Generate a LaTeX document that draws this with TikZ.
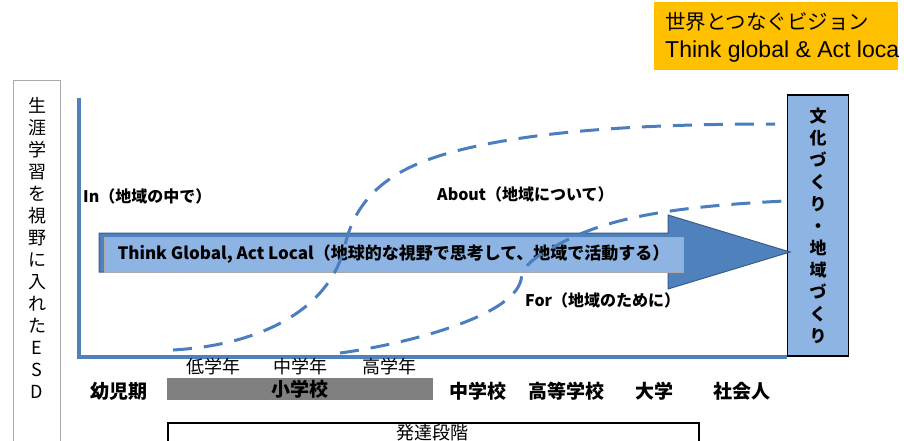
\documentclass[tikz,border=0pt]{standalone}
\usepackage{fontspec}
\setmainfont{Noto Sans CJK JP}
\newfontfamily\arialf{Liberation Sans}
\usetikzlibrary{calc}
\definecolor{axisblue}{RGB}{79,129,189}
\definecolor{dashblue}{RGB}{74,126,190}
\definecolor{arrowblue}{RGB}{79,129,189}
\definecolor{arrowedge}{RGB}{56,93,138}
\definecolor{lightblue}{RGB}{141,180,226}
\definecolor{bargray}{RGB}{128,128,128}
\definecolor{boxgray}{RGB}{170,170,170}
\definecolor{orangeY}{RGB}{255,192,0}
\begin{document}
\begin{tikzpicture}[x=1pt,y=-1pt,
  lbl/.style={inner sep=0pt, font=\bfseries\fontsize{16}{20}\selectfont},
  botlbl/.style={inner sep=0pt, font=\bfseries\fontsize{19}{22}\selectfont},
  toplbl/.style={inner sep=0pt, font=\fontsize{18}{22}\selectfont},
  dashcurve/.style={draw=dashblue, line width=3pt, dash pattern=on 19pt off 12pt},
  axisline/.style={draw=axisblue, line width=3.5pt}]
\useasboundingbox (0,0) rectangle (904,441);

% left box
\node[draw=boxgray, line width=1.2pt, anchor=north west, minimum width=47pt, minimum height=380pt, inner sep=0pt] (leftbox) at (13,80) {};
\node[font=\fontsize{18}{22}\selectfont, align=center, inner sep=0pt] (lefttext) at (37,248) {生\\涯\\学\\習\\を\\視\\野\\に\\入\\れ\\た\\E\\S\\D};

% right box
\node[draw=black, line width=1.5pt, fill=lightblue, minimum width=61pt, minimum height=261pt, inner sep=0pt, align=center, font=\bfseries\fontsize{17}{22}\selectfont] (rightbox) at (818,225.5) {文\\化\\づ\\く\\り\\・\\地\\域\\づ\\く\\り};

% orange box
\node[fill=orangeY, anchor=north west, minimum width=244pt, minimum height=68pt, inner sep=0pt] (vision) at (654,2) {};
\node[anchor=west, inner sep=0pt, font=\fontsize{20.5}{24}\selectfont] (vis1) at (665,22) {世界とつなぐビジョン};
\node[anchor=west, inner sep=0pt, font=\arialf\fontsize{23}{26}\selectfont] (vis2) at (665,52) {Think global \& Act loca};

% big arrow
\coordinate (tip) at (790,252);
\path[fill=arrowblue, draw=arrowedge, line width=1pt] (99,233) -- (668,233) -- (668,215) -- (tip) -- (668,289) -- (668,272) -- (99,272) -- cycle;
\node[fill=lightblue, draw=boxgray, line width=0.8pt, minimum width=579pt, minimum height=35pt, inner sep=0pt, font=\bfseries\fontsize{17}{20}\selectfont] (tgal) at (393.5,254.5) {Think Global, Act Local（地球的な視野で思考して、地域で活動する）};

% dashed curves
\draw[dashcurve] (173,350) .. controls (260,345) and (330,310) .. (345,245) .. controls (358,190) and (400,165) .. (460,150) .. controls (540,130) and (650,124) .. (775,124);
\draw[dashcurve] (340,353) .. controls (400,345) and (512,318) .. (521,280) .. controls (522,268) and (530,261) .. (545,252) .. controls (590,225) and (640,208) .. (785,201);

% axes
\coordinate (axtop) at (79,98);
\draw[axisline] (axtop) |- (rightbox.south west);

% labels
\node[lbl, anchor=west] (inlbl) at (83,196) {In（地域の中で）};
\node[lbl, anchor=west] (aboutlbl) at (437,194) {About（地域について）};
\node[lbl, anchor=west] (forlbl) at (525,300) {For（地域のために）};

% bottom
\node[toplbl] (low) at (213,367) {低学年};
\node[toplbl] (mid) at (300,367) {中学年};
\node[toplbl] (high) at (389,367) {高学年};
\node[fill=bargray, anchor=north west, minimum width=266pt, minimum height=22pt, inner sep=0pt] (bar) at (167,378) {};
\node[botlbl] (sho) at (bar.center) {小学校};
\node[botlbl] (yoji) at (119,391) {幼児期};
\node[botlbl] (chu) at (478,391) {中学校};
\node[botlbl] (koto) at (566,391) {高等学校};
\node[botlbl] (dai) at (654,391) {大学};
\node[botlbl] (shakai) at (742,391) {社会人};
\node[draw=black, line width=1.5pt, anchor=north west, minimum width=531pt, minimum height=40pt, inner sep=0pt] (devbox) at (167,422) {};
\node[toplbl] (dev) at (432,433) {発達段階};
\end{tikzpicture}
\end{document}
